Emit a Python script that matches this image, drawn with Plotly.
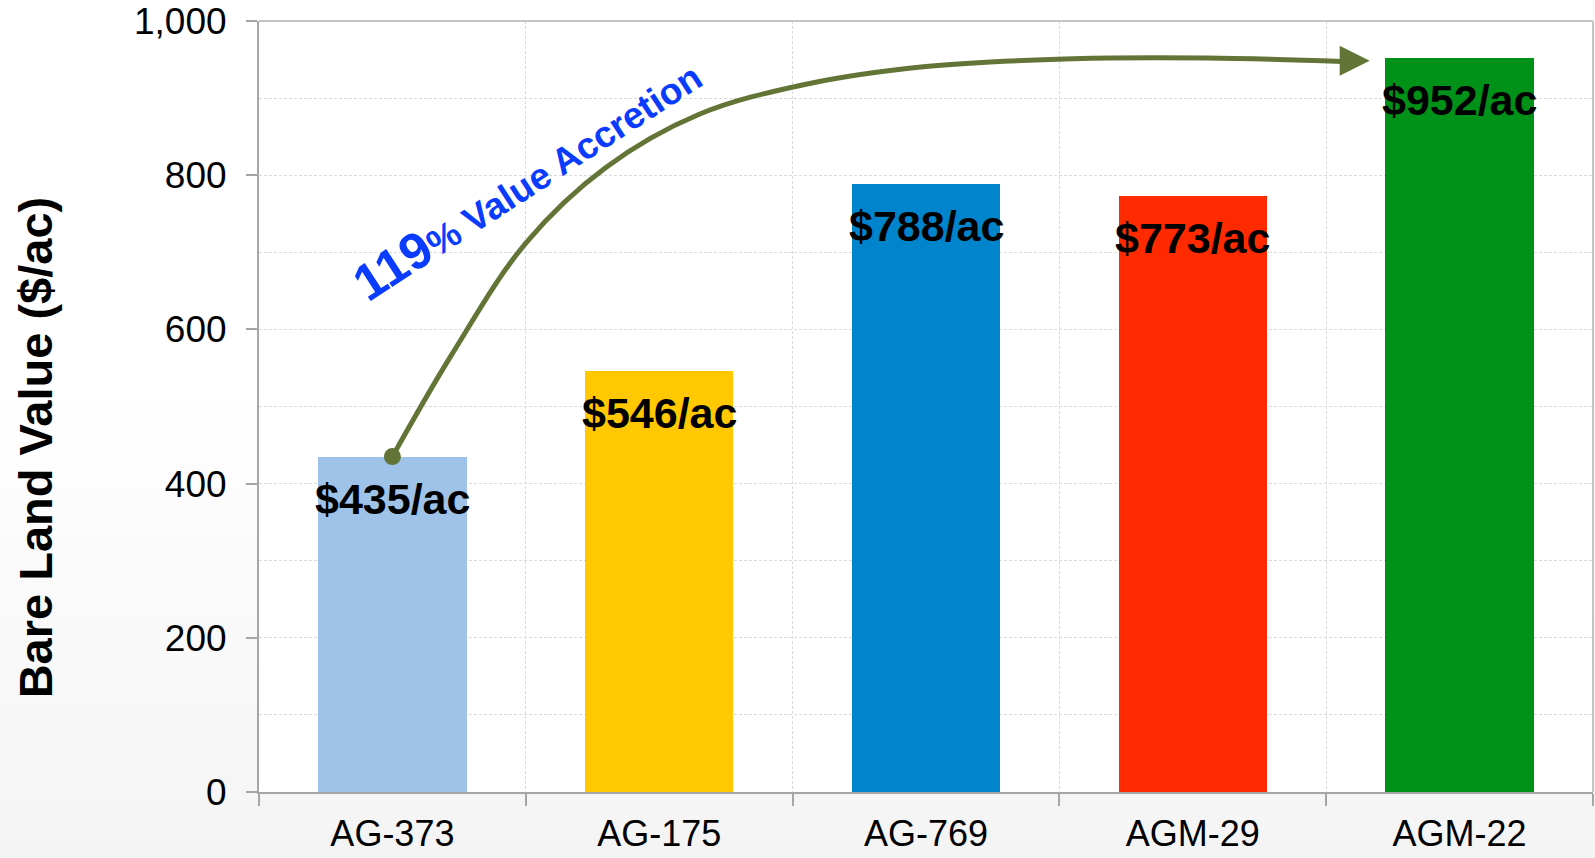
import plotly.graph_objects as go

# Bare land value by tract
tracts = ["AG-373", "AG-175", "AG-769", "AGM-29", "AGM-22"]
values = [435, 546, 788, 773, 952]
bar_colors = ["#9FC2E8", "#FFC800", "#0084CC", "#FF2A00", "#009119"]

y_ticks = [0, 200, 400, 600, 800, 1000]

# Path of the curved "accretion" arrow, in data units (x = tract index, y = $/ac)
arrow_x = [0.0, 0.22, 0.50, 0.80, 1.15, 1.55, 2.00, 2.55, 3.05, 3.56]
arrow_y = [values[0], 566, 712, 810, 879, 918, 941, 951, 952, 947.5]
arrow_tip = (3.663, 948.5)

FONT = "Liberation Sans, Arial, sans-serif"
AXIS_GREY = "#A6A6A6"
GRID_GREY = "#DADADA"
ARROW_GREEN = "#627536"

W, H = 1595, 858
M_L, M_R, M_T, M_B = 259, 2, 21, 66

fig = go.Figure()

fig.add_trace(go.Bar(
    x=list(range(len(tracts))),
    y=values,
    width=0.556,
    marker=dict(color=bar_colors, line=dict(width=0)),
    hoverinfo="skip",
    showlegend=False,
))

# Curved arrow body and its starting dot
fig.add_trace(go.Scatter(
    x=arrow_x, y=arrow_y,
    mode="lines",
    line=dict(color=ARROW_GREEN, width=5, shape="spline", smoothing=1.0),
    hoverinfo="skip", showlegend=False,
))
fig.add_trace(go.Scatter(
    x=[0], y=[values[0]],
    mode="markers",
    marker=dict(color=ARROW_GREEN, size=17),
    hoverinfo="skip", showlegend=False,
))

shapes = []

# Soft grey gradient across the lower part of the page
plot_h = H - M_T - M_B
def paper_y(px):
    return (H - M_B - px) / plot_h

n_bands = 40
top_px, bottom_px = 380, H
for k in range(n_bands):
    p0 = top_px + (bottom_px - top_px) * k / n_bands
    p1 = top_px + (bottom_px - top_px) * (k + 1) / n_bands
    t = (k + 0.5) / n_bands
    g = round(255 - 11 * t)
    shapes.append(dict(
        type="rect", xref="paper", yref="paper",
        x0=-M_L / (W - M_L - M_R), x1=1 + M_R / (W - M_L - M_R),
        y0=paper_y(p1) - (0.01 if k == n_bands - 1 else 0), y1=paper_y(p0),
        fillcolor=f"rgb({g},{g},{g})", line=dict(width=0), layer="below",
    ))
# White plotting area
shapes.append(dict(
    type="rect", xref="paper", yref="paper", x0=0, x1=1, y0=0, y1=1,
    fillcolor="white", line=dict(width=0), layer="below",
))
# Light frame on top and right
shapes.append(dict(type="line", xref="paper", yref="paper", x0=0, x1=1, y0=1, y1=1,
                   line=dict(color="#C4C4C4", width=2)))
shapes.append(dict(type="line", xref="paper", yref="paper", x0=1, x1=1, y0=0, y1=1,
                   line=dict(color="#C4C4C4", width=2)))
# Arrowhead
shapes.append(dict(
    type="path", xref="x", yref="y",
    xsizemode="pixel", ysizemode="pixel",
    xanchor=arrow_tip[0], yanchor=arrow_tip[1],
    path="M 0,0 L -30,15 L -30,-15 Z",
    fillcolor=ARROW_GREEN, line=dict(width=0),
))

annotations = []
# Value labels inside the top of each bar
for i, v in enumerate(values):
    annotations.append(dict(
        x=i, y=v, xref="x", yref="y",
        text=f"<b>${v}/ac</b>",
        showarrow=False, yanchor="middle", yshift=-42,
        font=dict(family=FONT, size=43, color="black"),
    ))

annotations.append(dict(
    x=0.505, y=796, xref="x", yref="y",
    text="<b><span style='font-size:51px'>119</span>% Value Accretion</b>",
    showarrow=False, textangle=-33,
    font=dict(family=FONT, size=37, color="#0A3CFF"),
))

# Y axis title
annotations.append(dict(
    x=-(M_L - 35) / (W - M_L - M_R), y=0.447, xref="paper", yref="paper",
    text="<b>Bare Land Value ($/ac)</b>",
    showarrow=False, textangle=-90, xanchor="center", yanchor="middle",
    font=dict(family=FONT, size=47, color="black"),
))

fig.update_layout(
    width=W, height=H,
    margin=dict(l=M_L, r=M_R, t=M_T, b=M_B, pad=0, autoexpand=False),
    paper_bgcolor="white",
    plot_bgcolor="rgba(0,0,0,0)",
    shapes=shapes,
    annotations=annotations,
    bargap=0,
    xaxis=dict(
        range=[-0.5, 4.5], automargin=False,
        tickmode="array", tickvals=list(range(len(tracts))), ticktext=tracts,
        ticks="", showgrid=False, zeroline=False,
        showline=True, linecolor=AXIS_GREY, linewidth=2,
        tickfont=dict(family=FONT, size=36, color="black"),
        ticklabelstandoff=9,
        minor=dict(tick0=-0.5, dtick=1, ticks="outside", ticklen=12, tickwidth=2,
                   tickcolor=AXIS_GREY, showgrid=True, gridcolor=GRID_GREY,
                   griddash="3px,2px", gridwidth=1),
        fixedrange=True,
    ),
    yaxis=dict(
        range=[0, 1000], automargin=False,
        tickmode="array", tickvals=y_ticks, tickformat=",",
        ticks="outside", ticklen=11, tickwidth=2, tickcolor=AXIS_GREY,
        showgrid=True, gridcolor=GRID_GREY, griddash="3px,2px", gridwidth=1,
        zeroline=False,
        showline=True, linecolor=AXIS_GREY, linewidth=2,
        tickfont=dict(family=FONT, size=37, color="black"),
        ticklabelstandoff=12,
        minor=dict(dtick=100, showgrid=True, gridcolor=GRID_GREY,
                   griddash="3px,2px", gridwidth=1, ticks=""),
        fixedrange=True,
    ),
)

fig.write_html("out.html")
